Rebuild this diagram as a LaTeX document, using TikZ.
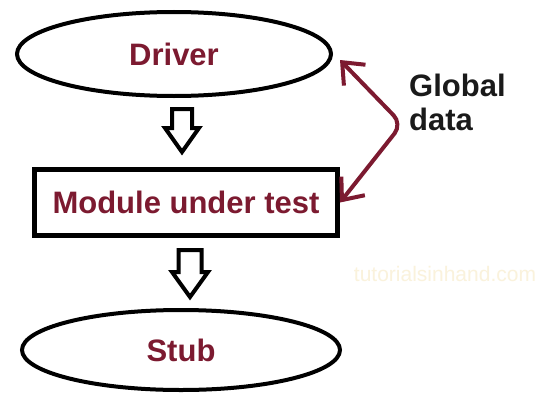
\documentclass[tikz,border=0pt]{standalone}
\usepackage{fontspec}
\setmainfont{Liberation Sans}
\usetikzlibrary{shapes.geometric,arrows.meta}

\definecolor{maroon}{RGB}{124,26,48}
\definecolor{labelink}{RGB}{26,26,26}
\definecolor{wmark}{RGB}{250,242,220}

% hollow block arrow pointing down: #1 centre x, #2 top y, #3 head start y,
% #4 tip y, #5 stem half width, #6 head half width
\newcommand{\blockarrowdown}[6]{%
  \draw[blockarrow] (#1-#5,#2) -- (#1+#5,#2) -- (#1+#5,#3) -- (#1+#6,#3)
    -- (#1,#4) -- (#1-#6,#3) -- (#1-#5,#3) -- cycle;}

\begin{document}
\begin{tikzpicture}[x=1pt,y=-1pt,
  oval/.style={ellipse, draw=black, line width=4pt, inner sep=0pt},
  boxed/.style={rectangle, draw=black, line width=5pt, inner sep=0pt},
  bigtext/.style={font=\fontsize{31}{34}\selectfont\bfseries, text=maroon},
  blockarrow/.style={draw=black, line width=4pt, line join=miter, fill=white},
  globalflow/.style={draw=maroon, line width=4pt, rounded corners=12pt,
    {Straight Barb[length=18pt,width=30pt]}-{Straight Barb[length=18pt,width=30pt]}}]

  \useasboundingbox[fill=white] (0,0) rectangle (537,396);

  % the three levels of the test set-up
  \node[oval, minimum width=314pt, minimum height=84pt, bigtext] (driver) at (174,54) {Driver};
  \node[boxed, minimum width=303pt, minimum height=66pt, bigtext] (mut) at (186,202.5) {Module under test};
  \node[oval, minimum width=318pt, minimum height=80pt, bigtext] (stub) at (181,350) {Stub};

  % call direction between the levels
  \blockarrowdown{182}{109}{128}{152}{10}{17}
  \blockarrowdown{190}{250}{272}{297}{11.5}{18}

  % shared global data
  \coordinate (gdtop) at (340,60);
  \coordinate (gdbend) at (402,124);
  \draw[globalflow] (gdtop) -- (gdbend) -- (mut.east);
  \node[anchor=north west, inner sep=0pt, align=left, text=labelink,
        font=\fontsize{31}{34}\selectfont\bfseries] (gdlabel) at (409,74) {Global\\data};

  % site mark
  \node[font=\fontsize{21}{24}\selectfont, text=wmark, inner sep=0pt] (wm) at (445,274) {tutorialsinhand.com};
\end{tikzpicture}
\end{document}
